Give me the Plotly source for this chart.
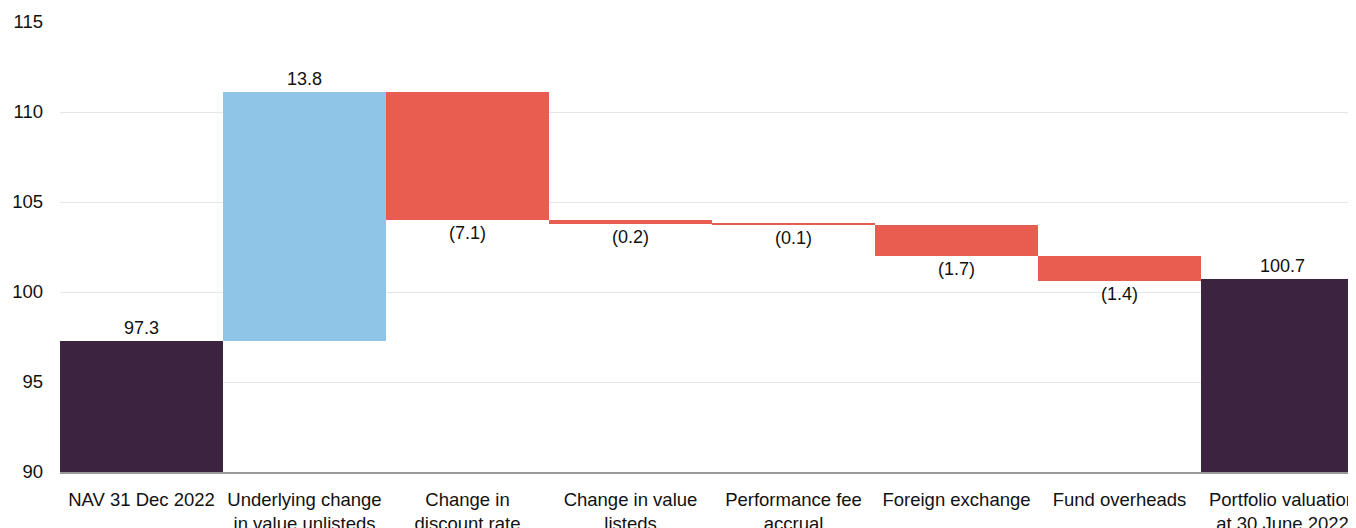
import plotly.graph_objects as go

categories = [
    "NAV 31 Dec 2022",
    "Underlying change<br>in value unlisteds",
    "Change in<br>discount rate",
    "Change in value<br>listeds",
    "Performance fee<br>accrual",
    "Foreign exchange",
    "Fund overheads",
    "Portfolio valuation<br>at 30 June 2022",
]
measures = ["absolute", "relative", "relative", "relative", "relative", "relative", "relative", "absolute"]
values = [97.3, 13.8, -7.1, -0.2, -0.1, -1.7, -1.4, 100.7]
labels = ["97.3", "13.8", "(7.1)", "(0.2)", "(0.1)", "(1.7)", "(1.4)", "100.7"]
y_ticks = [90, 95, 100, 105, 110, 115]

DARK = "#3C2440"
BLUE = "#8FC6E8"
RED = "#E85D4F"
FONT = "Liberation Sans, Arial, sans-serif"

fig = go.Figure(
    go.Waterfall(
        x=categories,
        y=values,
        measure=measures,
        text=labels,
        textposition="outside",
        textfont=dict(size=18, color="#111111", family=FONT),
        increasing=dict(marker=dict(color=BLUE)),
        decreasing=dict(marker=dict(color=RED)),
        totals=dict(marker=dict(color=DARK)),
        connector=dict(visible=False),
        cliponaxis=False,
    )
)

fig.update_layout(
    width=1356,
    height=528,
    margin=dict(l=52, r=0, t=14, b=64),
    paper_bgcolor="white",
    plot_bgcolor="white",
    waterfallgap=0,
    showlegend=False,
    font=dict(family=FONT, size=18, color="#111111"),
    xaxis=dict(
        range=[-0.5, 7.5],
        showgrid=False,
        showline=True,
        linecolor="#9a9a9a",
        linewidth=1.5,
        ticks="",
        ticklabelstandoff=10,
        tickfont=dict(size=18.5),
    ),
    yaxis=dict(
        range=[90, 115],
        tickvals=y_ticks,
        showgrid=True,
        gridcolor="#e6e6e6",
        gridwidth=1,
        zeroline=False,
        showline=False,
        ticks="",
        ticklabelstandoff=16,
        tickfont=dict(size=18.5),
    ),
)

fig.write_html("out.html")
